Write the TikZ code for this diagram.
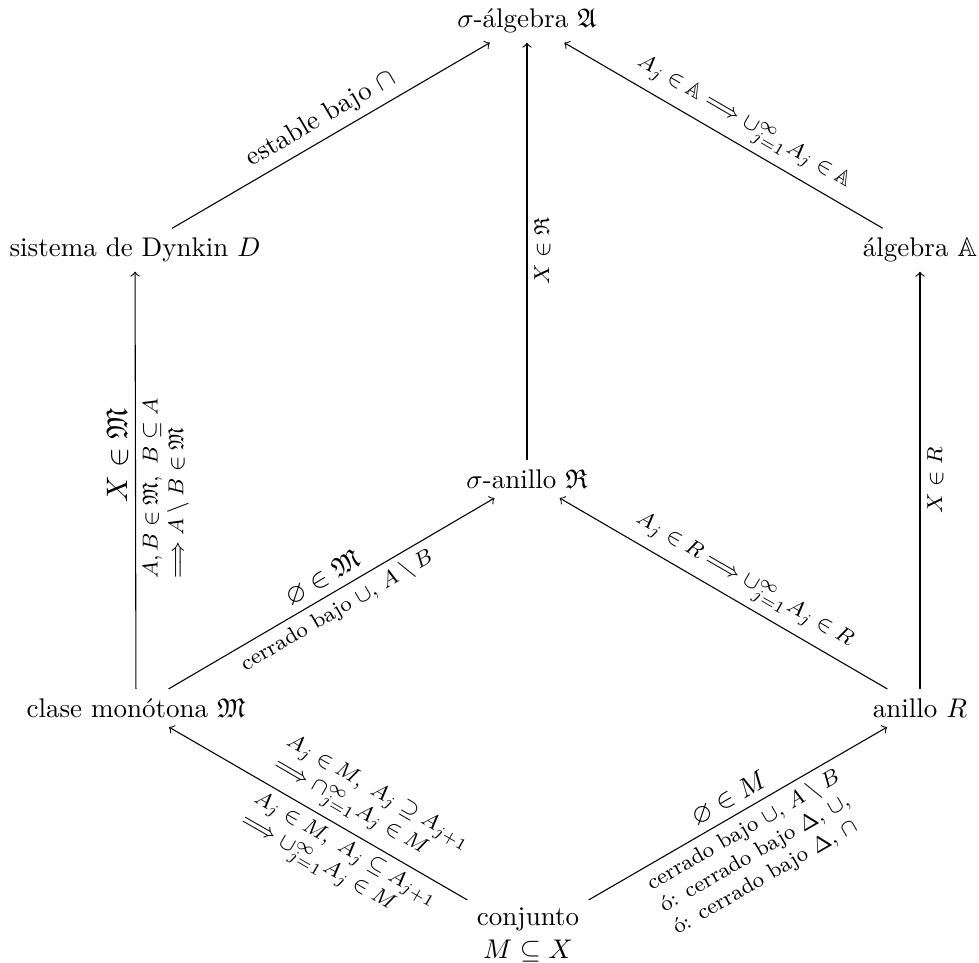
\documentclass[tikz,border=0pt]{standalone}
\usepackage{amsmath,amssymb}
\begin{document}
\begin{tikzpicture}[x=0.3704pt,y=-0.3704pt,
  obj/.style={inner sep=3.33pt},
  arr/.style={->, line width=0.4pt},
  lab/.style={sloped, inner sep=2.5pt},
  fs/.style={lab, font=\footnotesize},
  vlab/.style={rotate=90, inner sep=2.5pt}]
\useasboundingbox (0,0) rectangle (979,962);
\node[obj] (top)   at (527,21)  {$\sigma$-\'algebra $\mathfrak{A}$};
\node[obj] (dyn)   at (135,250) {sistema de Dynkin $D$};
\node[obj] (alg)   at (920,250) {\'algebra $\mathbb{A}$};
\node[obj] (sring) at (527,479) {$\sigma$-anillo $\mathfrak{R}$};
\node[obj] (mono)  at (136,708) {clase mon\'otona $\mathfrak{M}$};
\node[obj] (ring)  at (920,708) {anillo $R$};
\node[obj, align=center] (set) at (528,935) {conjunto\\$M\subseteq X$};

\draw[arr] (dyn) -- node[lab, above] {estable bajo $\cap$} (top);
\draw[arr] (alg) -- node[fs, above, pos=0.47] {$A_j\in\mathbb{A}\Longrightarrow\cup_{j=1}^\infty A_j\in\mathbb{A}$} (top);
\draw[arr] (sring) -- node[vlab, anchor=north, font=\footnotesize] {$X\in\mathfrak{R}$} (top);
\draw[arr] (mono) -- node[vlab, anchor=south, pos=0.56, font=\fontsize{11}{13}\selectfont] {$X\in\mathfrak{M}$}
  node[vlab, anchor=north, align=left, font=\footnotesize, pos=0.48] {$A,B\in\mathfrak{M},\ B\subseteq A$\\$\Longrightarrow A\setminus B\in\mathfrak{M}$} (dyn);
\draw[arr] (ring) -- node[vlab, anchor=north, font=\footnotesize] {$X\in R$} (alg);
\draw[arr] (mono) -- node[lab, above, pos=0.5] {$\varnothing\in\mathfrak{M}$}
  node[fs, below, pos=0.49] {cerrado bajo $\cup$, $A\setminus B$} (sring);
\draw[arr] (ring) -- node[fs, above, pos=0.47] {$A_j\in R\Longrightarrow\cup_{j=1}^\infty A_j\in R$} (sring);
\draw[arr] (set) -- node[fs, above, align=left, pos=0.38] {$A_j\in M,\ A_j\supseteq A_{j+1}$\\$\Longrightarrow\cap_{j=1}^\infty A_j\in M$}
  node[fs, below, align=left, pos=0.38] {$A_j\in M,\ A_j\subseteq A_{j+1}$\\$\Longrightarrow\cup_{j=1}^\infty A_j\in M$} (mono);
\draw[arr] (set) -- node[lab, above, pos=0.5] {$\varnothing\in M$}
  node[fs, below, align=left, pos=0.49] {cerrado bajo $\cup$, $A\setminus B$\\\'o: cerrado bajo $\Delta$, $\cup$,\\\'o: cerrado bajo $\Delta$, $\cap$} (ring);
\end{tikzpicture}
\end{document}
